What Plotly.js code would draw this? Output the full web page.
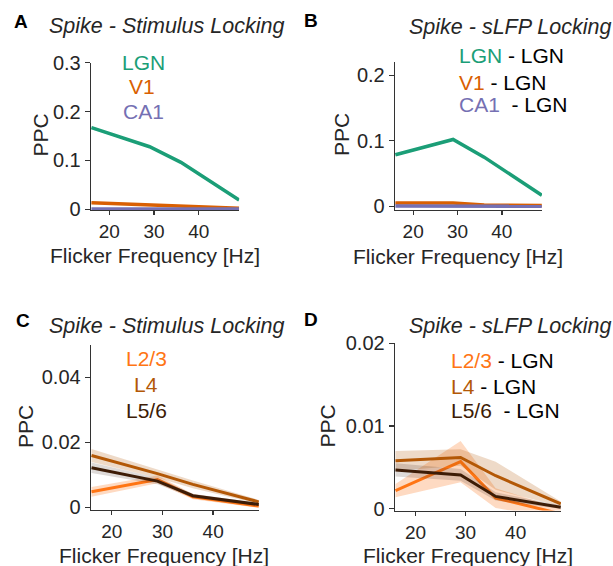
<!DOCTYPE html>
<html>
<head>
<meta charset="utf-8">
<script src="https://cdn.plot.ly/plotly-3.0.1.min.js"></script>
<style>html,body{margin:0;padding:0;background:#fff;}#chart{width:613px;height:566px;}</style>
</head>
<body>
<div id="chart"></div>
<script>
// ---- data ----
const freqs = [16, 29, 36, 49];
const xTickVals = [20, 30, 40];
const xTickText = ['20', '30', '40'];

// Panel A: spike-stimulus locking (areas)
const lgnStim = [0.167, 0.128, 0.096, 0.019];
const lgnStimErr = [0.003, 0.002, 0.002, 0.002];
const v1Stim = [0.0135, 0.009, 0.005, 0.002];
const v1StimErr = [0.0015, 0.001, 0.001, 0.001];
const ca1Stim = [0.0006, 0.0006, 0.0005, 0.0005];
const ca1StimErr = [0.0005, 0.0005, 0.0005, 0.0005];
const aTickVals = [0, 0.1, 0.2, 0.3];
const aTickText = ['0', '0.1', '0.2', '0.3'];

// Panel B: spike-sLFP locking (areas)
const lgnLfp = [0.0786, 0.102, 0.075, 0.0167];
const lgnLfpErr = [0.002, 0.002, 0.002, 0.002];
const v1Lfp = [0.005, 0.005, 0.002, 0.001];
const v1LfpErr = [0.001, 0.001, 0.001, 0.001];
const ca1Lfp = [0.0002, 0.0002, 0.0001, 0.0001];
const ca1LfpErr = [0.0005, 0.0005, 0.0005, 0.0005];
const bTickVals = [0, 0.1, 0.2];
const bTickText = ['0', '0.1', '0.2'];

// Panel C: spike-stimulus locking (layers)
const l23Stim = [0.0048, 0.0086, 0.0033, 0.0004];
const l23StimErr = [0.0015, 0.0012, 0.0008, 0.0005];
const l4Stim = [0.016, 0.0104, 0.0071, 0.0017];
const l4StimErr = [0.002, 0.0013, 0.0012, 0.0006];
const l56Stim = [0.0122, 0.0081, 0.0036, 0.0009];
const l56StimErr = [0.0016, 0.001, 0.0006, 0.0004];
const cTickVals = [0, 0.02, 0.04];
const cTickText = ['0', '0.02', '0.04'];

// Panel D: spike-sLFP locking (layers)
const l23Lfp = [0.0022, 0.0057, 0.0013, -0.0006];
const l23LfpErr = [0.0008, 0.0025, 0.0012, 0.0006];
const l4Lfp = [0.0058, 0.0062, 0.004, 0.0006];
const l4LfpErr = [0.0012, 0.001, 0.0017, 0.0003];
const l56Lfp = [0.0047, 0.0041, 0.0015, 0.0002];
const l56LfpErr = [0.0008, 0.0007, 0.0005, 0.0002];
const dTickVals = [0, 0.01, 0.02];
const dTickText = ['0', '0.01', '0.02'];

// ---- styling ----
const W = 613, H = 566;
const FONT = 'Liberation Sans, Arial, sans-serif';
const TXT = '#262626';
const FS = 21;
const TICKFS = 19;
const C = {
  lgn: '#1b9e77', v1: '#d95f02', ca1: '#7570b3',
  l23: '#ff7514', l4: '#b35806', l56: '#3d1c06'
};
const BAND = {
  lgn: 'rgba(27,158,119,0.25)', v1: 'rgba(217,95,2,0.25)', ca1: 'rgba(117,112,179,0.25)',
  l23: 'rgba(253,150,80,0.35)', l4: 'rgba(179,88,6,0.22)', l56: 'rgba(70,50,40,0.18)'
};

function px(x) { return x / W; }
function py(y) { return 1 - y / H; }

const traces = [];
function addSeries(xa, ya, y, err, key, lw) {
  const upper = y.map((v, i) => v + err[i]);
  const lower = y.map((v, i) => v - err[i]);
  traces.push({
    x: freqs.concat(freqs.slice().reverse()),
    y: upper.concat(lower.slice().reverse()),
    xaxis: xa, yaxis: ya, type: 'scatter', mode: 'lines',
    fill: 'toself', fillcolor: BAND[key], line: {width: 0, color: 'rgba(0,0,0,0)'},
    hoverinfo: 'skip', showlegend: false
  });
  traces.push({
    x: freqs, y: y, xaxis: xa, yaxis: ya, type: 'scatter', mode: 'lines',
    line: {color: C[key], width: lw}, showlegend: false
  });
}

addSeries('x', 'y', lgnStim, lgnStimErr, 'lgn', 3.5);
addSeries('x', 'y', v1Stim, v1StimErr, 'v1', 3.5);
addSeries('x', 'y', ca1Stim, ca1StimErr, 'ca1', 3.5);

addSeries('x2', 'y2', lgnLfp, lgnLfpErr, 'lgn', 3.5);
addSeries('x2', 'y2', v1Lfp, v1LfpErr, 'v1', 3.5);
addSeries('x2', 'y2', ca1Lfp, ca1LfpErr, 'ca1', 3.5);

addSeries('x3', 'y3', l23Stim, l23StimErr, 'l23', 3);
addSeries('x3', 'y3', l4Stim, l4StimErr, 'l4', 3);
addSeries('x3', 'y3', l56Stim, l56StimErr, 'l56', 3);

addSeries('x4', 'y4', l23Lfp, l23LfpErr, 'l23', 3);
addSeries('x4', 'y4', l4Lfp, l4LfpErr, 'l4', 3);
addSeries('x4', 'y4', l56Lfp, l56LfpErr, 'l56', 3);

function xAxis(l, r, anchor) {
  return {
    domain: [px(l), px(r)], anchor: anchor, range: [15.9, 49.05],
    tickvals: xTickVals, ticktext: xTickText,
    showline: true, linecolor: '#333', linewidth: 1.3,
    ticks: 'outside', ticklen: 4, tickwidth: 1.3, tickcolor: '#333',
    showgrid: false, zeroline: false,
    tickfont: {family: FONT, size: TICKFS, color: TXT}, fixedrange: true
  };
}
function yAxis(t, b, anchor, range, tv, tt) {
  return {
    domain: [py(b), py(t)], anchor: anchor, range: range,
    tickvals: tv, ticktext: tt,
    showline: true, linecolor: '#333', linewidth: 1.3,
    ticks: 'outside', ticklen: 5, tickwidth: 1.3, tickcolor: '#333',
    showgrid: false, zeroline: false,
    tickfont: {family: FONT, size: 20, color: TXT}, fixedrange: true
  };
}

const ann = [];
function txt(x, y, text, opts) {
  ann.push(Object.assign({
    xref: 'paper', yref: 'paper', x: px(x), y: py(y), text: text,
    showarrow: false, xanchor: 'center', yanchor: 'middle',
    font: {family: FONT, size: FS, color: TXT}
  }, opts || {}));
}

// panel letters
const LF = {family: FONT, size: 19, color: '#000'};
txt(21, 21, '<b>A</b>', {font: LF});
txt(311, 20, '<b>B</b>', {font: LF});
txt(23, 320, '<b>C</b>', {font: LF});
txt(311, 319, '<b>D</b>', {font: LF});

// titles
const TF = {family: FONT, size: 21.5, color: TXT};
txt(166, 26, '<i>Spike - Stimulus Locking</i>', {font: TF});
txt(510, 27, '<i>Spike - sLFP Locking</i>', {font: TF});
txt(166, 326, '<i>Spike - Stimulus Locking</i>', {font: TF});
txt(510, 326, '<i>Spike - sLFP Locking</i>', {font: TF});

// axis titles
txt(154.7, 255, 'Flicker Frequency [Hz]');
txt(457.5, 256, 'Flicker Frequency [Hz]');
txt(164, 555, 'Flicker Frequency [Hz]');
txt(468, 555.5, 'Flicker Frequency [Hz]');
txt(39.5, 135, 'PPC', {textangle: -90});
txt(341, 135, 'PPC', {textangle: -90});
txt(25, 427, 'PPC', {textangle: -90});
txt(326.5, 426, 'PPC', {textangle: -90});

// legends A
txt(143, 62, 'LGN', {font: {family: FONT, size: FS, color: C.lgn}});
txt(142, 87, 'V1', {font: {family: FONT, size: FS, color: C.v1}});
txt(143, 112, 'CA1', {font: {family: FONT, size: FS, color: C.ca1}});
// legends B
const NB = '\u00a0';
const BF = {family: FONT, size: FS, color: '#000'};
txt(457, 55, '<span style="color:' + C.lgn + '">LGN</span> - LGN', {xanchor: 'left', font: BF});
txt(457, 83, '<span style="color:' + C.v1 + '">V1</span> - LGN', {xanchor: 'left', font: BF});
txt(457, 105, '<span style="color:' + C.ca1 + '">CA1</span>' + NB + NB + '- LGN', {xanchor: 'left', font: BF});
// legends C
txt(146, 358, 'L2/3', {font: {family: FONT, size: FS, color: C.l23}});
txt(146, 384, 'L4', {font: {family: FONT, size: FS, color: C.l4}});
txt(146, 410, 'L5/6', {font: {family: FONT, size: FS, color: C.l56}});
// legends D
txt(449, 360, '<span style="color:' + C.l23 + '">L2/3</span> - LGN', {xanchor: 'left', font: BF});
txt(449, 386, '<span style="color:' + C.l4 + '">L4</span> - LGN', {xanchor: 'left', font: BF});
txt(449, 410, '<span style="color:' + C.l56 + '">L5/6</span>' + NB + NB + '- LGN', {xanchor: 'left', font: BF});

const layout = {
  width: W, height: H,
  margin: {l: 0, r: 0, t: 0, b: 0},
  paper_bgcolor: '#fff', plot_bgcolor: '#fff',
  showlegend: false,
  font: {family: FONT, color: TXT},
  xaxis: xAxis(91, 239.3, 'y'),
  yaxis: yAxis(62.7, 210, 'x', [-0.0015, 0.3], aTickVals, aTickText),
  xaxis2: xAxis(395, 542, 'y2'),
  yaxis2: yAxis(62.3, 209.5, 'x2', [-0.005, 0.22], bTickVals, bTickText),
  xaxis3: xAxis(91, 259, 'y3'),
  yaxis3: yAxis(345, 510, 'x3', [-0.0008, 0.05], cTickVals, cTickText),
  xaxis4: xAxis(395, 561, 'y4'),
  yaxis4: yAxis(343.3, 510.5, 'x4', [-0.0002, 0.02], dTickVals, dTickText),
  annotations: ann
};

Plotly.newPlot('chart', traces, layout, {displayModeBar: false, staticPlot: true});
</script>
</body>
</html>
